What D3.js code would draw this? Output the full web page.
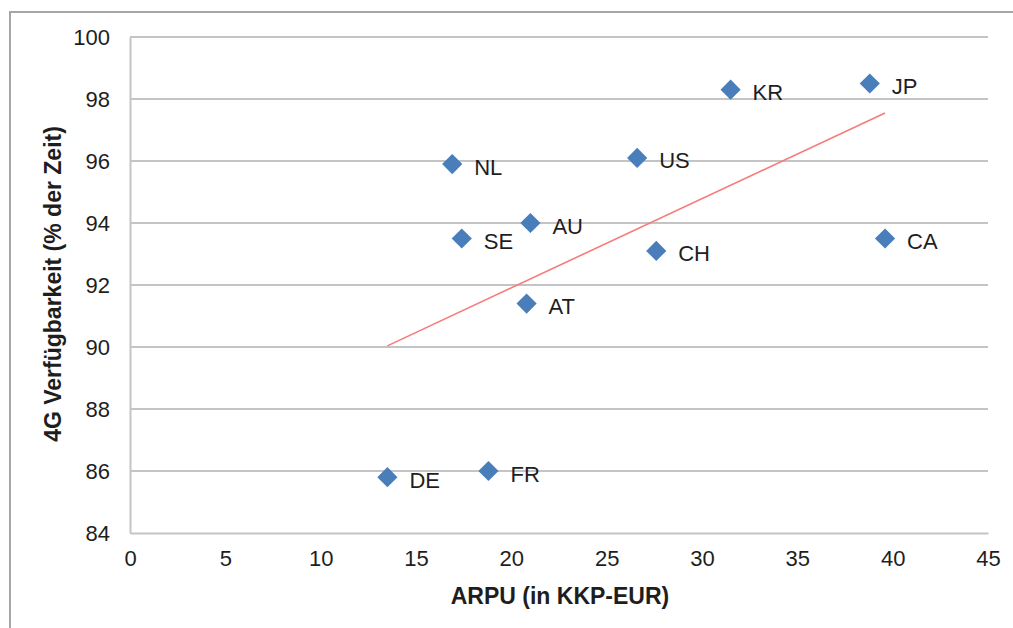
<!DOCTYPE html>
<html><head><meta charset="utf-8">
<script src="https://cdn.jsdelivr.net/npm/d3@7"></script>
<style>
html,body{margin:0;padding:0;background:#fff;}
svg{display:block;font-family:"Liberation Sans",Arial,sans-serif;}
</style></head>
<body>
<svg id="chart" width="1013" height="628"></svg>
<script>
const countries = ["DE","FR","NL","SE","AU","AT","US","CH","KR","JP","CA"];
const arpu      = [13.5, 18.8, 16.9, 17.4, 21.0, 20.8, 26.6, 27.6, 31.5, 38.8, 39.6];
const avail4g   = [85.8, 86.0, 95.9, 93.5, 94.0, 91.4, 96.1, 93.1, 98.3, 98.5, 93.5];
const xTicks = [0,5,10,15,20,25,30,35,40,45];
const yTicks = [84,86,88,90,92,94,96,98,100];
const xTitle = "ARPU (in KKP-EUR)";
const yTitle = "4G Verfügbarkeit (% der Zeit)";

const svg = d3.select("#chart");
const L = 130, R = 988, T = 37, B = 533;
const x = d3.scaleLinear().domain([0,45]).range([L,R]);
const y = d3.scaleLinear().domain([84,100]).range([B,T]);

// outer frame
svg.append("rect").attr("x",10).attr("y",12).attr("width",1010).attr("height",630)
  .attr("fill","none").attr("stroke","#a6a6a6").attr("stroke-width",2);

// gridlines
svg.append("g").selectAll("line").data(yTicks.filter(d=>d>84)).join("line")
  .attr("x1",L).attr("x2",R).attr("y1",d=>y(d)).attr("y2",d=>y(d))
  .attr("stroke","#c4c4c4").attr("stroke-width",2);

// axes
const xAxis = svg.append("g").attr("transform",`translate(0,${B})`)
  .call(d3.axisBottom(x).tickValues(xTicks).tickSize(0).tickPadding(17));
const yAxis = svg.append("g").attr("transform",`translate(${L},0)`)
  .call(d3.axisLeft(y).tickValues(yTicks).tickSize(0).tickPadding(20));
[xAxis,yAxis].forEach(a=>{
  a.select(".domain").attr("stroke","#c4c4c4").attr("stroke-width",2);
  a.selectAll("text").attr("font-size",22).attr("fill","#1e1e1e")
   .attr("font-family","'Liberation Sans',Arial,sans-serif");
});

// trendline (least squares)
const pts = countries.map((c,i)=>({c, x:arpu[i], y:avail4g[i]}));
const mx = d3.mean(arpu), my = d3.mean(avail4g);
const slope = d3.sum(pts,p=>(p.x-mx)*(p.y-my))/d3.sum(pts,p=>(p.x-mx)**2);
const icpt = my - slope*mx;
const [x0,x1] = d3.extent(arpu);
svg.append("line")
  .attr("x1",x(x0)).attr("y1",y(icpt+slope*x0))
  .attr("x2",x(x1)).attr("y2",y(icpt+slope*x1))
  .attr("stroke","#f77b7b").attr("stroke-width",1.6);

// markers
const diamond = d3.symbol().type(d3.symbolDiamond2).size(260);
svg.append("g").selectAll("path").data(pts).join("path")
  .attr("d",diamond)
  .attr("transform",p=>`translate(${x(p.x)},${y(p.y)})`)
  .attr("fill","#4a7ebb");

// labels
svg.append("g").selectAll("text").data(pts).join("text")
  .attr("x",p=>x(p.x)+22).attr("y",p=>y(p.y)+3)
  .attr("dominant-baseline","central")
  .attr("font-size",22).attr("fill","#1e1e1e").text(p=>p.c);

// axis titles
svg.append("text").attr("x",560).attr("y",596).attr("text-anchor","middle")
  .attr("dominant-baseline","central")
  .attr("font-size",23).attr("font-weight","bold").attr("fill","#1e1e1e").text(xTitle);
svg.append("text").attr("transform",`translate(53,284) rotate(-90)`)
  .attr("text-anchor","middle").attr("dominant-baseline","central")
  .attr("font-size",23).attr("font-weight","bold").attr("fill","#1e1e1e").text(yTitle);
</script>
</body></html>
